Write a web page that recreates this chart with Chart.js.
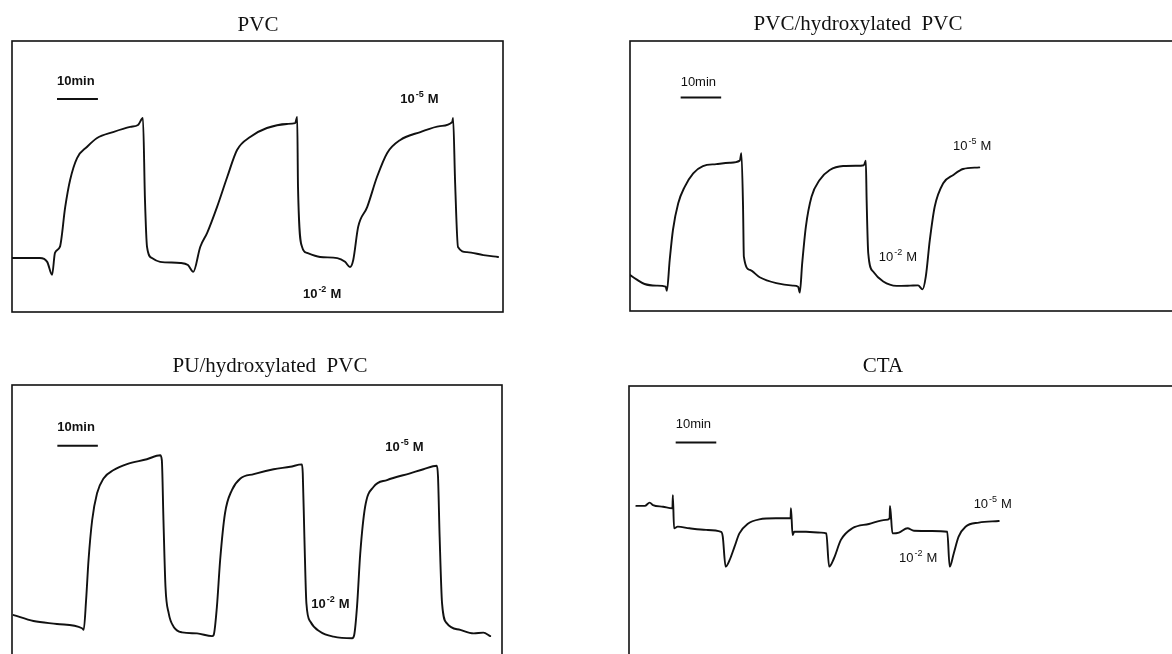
<!DOCTYPE html>
<html>
<head>
<meta charset="utf-8">
<script src="https://cdn.jsdelivr.net/npm/chart.js@4/dist/chart.umd.min.js"></script>
<style>
    html, body { margin: 0; padding: 0; background: #fff; overflow: hidden; width: 1172px; height: 654px; }
    .panel { position: absolute; }
</style>
</head>
<body>
<div class="panel" style="left:0;top:0"><canvas id="pvcChart" width="520" height="327"></canvas></div>
<div class="panel" style="left:586px;top:0"><canvas id="pvcOhChart" width="614" height="327"></canvas></div>
<div class="panel" style="left:0;top:327px"><canvas id="puChart" width="520" height="353"></canvas></div>
<div class="panel" style="left:586px;top:327px"><canvas id="ctaChart" width="614" height="353"></canvas></div>
<script>
// time in minutes, signal in arbitrary potential units (0-100 of the frame)
const pvcTime = [0, 6.8, 8.6, 9.8, 10.5, 11.7, 13.0, 14.2, 15.9, 18.3, 20.8, 24.7, 28.9, 30.8, 32.0, 32.5, 33.0, 34.2, 36.2, 41.1, 43.0, 44.3, 46.0, 47.7, 50.1, 52.6, 55.0, 58.2, 62.3, 67.2, 69.2, 69.7, 69.9, 70.9, 72.1, 75.3, 79.5, 81.4, 82.6, 83.4, 84.6, 86.8, 89.2, 91.7, 94.9, 99.8, 104.6, 107.6, 107.8, 108.3, 109.0, 111.2, 115.2, 118.8];
const pvcSignal = [19.9, 19.9, 18.5, 13.7, 21.8, 24.0, 38.7, 48.7, 56.8, 60.9, 64.2, 66.4, 68.3, 69.0, 71.6, 41.3, 24.0, 19.9, 18.5, 18.1, 17.3, 14.8, 24.0, 29.2, 38.7, 49.8, 59.8, 64.6, 67.9, 69.4, 69.7, 72.0, 46.1, 24.0, 21.8, 20.3, 19.9, 18.5, 16.6, 19.2, 31.4, 38.7, 49.8, 58.7, 63.5, 66.4, 68.6, 70.1, 71.6, 47.6, 24.0, 22.1, 21.0, 20.3];

const pvcOhTime = [0, 1.6, 3.6, 6.5, 8.8, 9.1, 9.8, 10.6, 11.9, 13.5, 15.6, 18.0, 21.3, 24.6, 27.1, 27.5, 27.9, 28.1, 29.6, 32.0, 36.1, 40.2, 41.5, 41.9, 42.5, 43.4, 44.8, 46.8, 49.3, 52.6, 55.9, 57.7, 58.2, 58.4, 58.8, 60.0, 62.5, 65.8, 69.1, 71.1, 72.2, 73.0, 74.0, 75.2, 77.3, 79.8, 82.2, 86.2];
const pvcOhSignal = [13.3, 11.7, 10.0, 9.4, 9.0, 7.5, 18.9, 30.0, 39.9, 46.0, 51.0, 53.7, 54.4, 54.9, 55.7, 58.4, 38.6, 20.1, 15.2, 12.5, 10.3, 9.4, 9.0, 6.8, 17.7, 31.2, 42.3, 48.5, 52.2, 53.7, 53.8, 54.0, 55.7, 41.1, 21.4, 14.6, 10.9, 9.3, 9.4, 9.5, 8.0, 12.7, 26.3, 38.6, 47.3, 50.4, 52.6, 53.2];

const puTime = [0.4, 5.3, 11.1, 17.3, 17.7, 18.3, 18.9, 19.8, 21.0, 22.6, 25.1, 28.4, 33.3, 36.6, 37.0, 37.4, 37.9, 38.7, 39.9, 42.0, 45.7, 49.4, 49.8, 50.6, 51.4, 52.6, 54.3, 56.4, 59.7, 64.6, 68.7, 71.6, 71.8, 72.2, 72.7, 73.7, 76.1, 79.4, 84.0, 84.5, 85.2, 86.0, 87.2, 89.3, 92.6, 98.3, 101.6, 104.9, 105.2, 105.6, 106.2, 107.4, 110.7, 114.0, 116.4, 118.1];
const puSignal = [14.8, 12.6, 11.5, 9.9, 9.3, 20.4, 35.2, 50.0, 59.9, 65.4, 68.5, 70.7, 72.5, 74.0, 72.2, 50.0, 25.3, 15.4, 10.5, 8.4, 8.0, 7.0, 7.4, 17.9, 35.2, 52.5, 61.1, 65.4, 67.0, 68.8, 69.7, 70.6, 67.3, 43.8, 19.1, 12.3, 8.6, 6.8, 6.2, 7.4, 17.9, 37.7, 54.9, 62.3, 64.8, 67.3, 68.8, 70.1, 66.0, 43.8, 19.1, 11.7, 9.3, 8.0, 8.3, 7.0];

const ctaTime = [1.8, 3.9, 5.1, 5.9, 8.4, 10.7, 10.8, 11.1, 12.0, 14.9, 19.0, 22.7, 23.1, 23.8, 24.8, 26.0, 27.2, 29.2, 32.1, 36.2, 39.8, 39.9, 40.3, 40.7, 43.6, 47.3, 48.6, 49.3, 50.5, 52.2, 55.0, 59.1, 63.2, 64.2, 64.3, 64.9, 66.5, 68.6, 70.2, 74.7, 78.4, 79.0, 80.0, 81.2, 82.9, 86.2, 91.1];
const ctaSignal = [55.6, 55.6, 56.8, 55.9, 55.3, 54.7, 59.6, 47.3, 47.9, 47.3, 46.7, 46.0, 44.2, 33.1, 35.6, 40.5, 45.4, 48.9, 50.6, 51.0, 51.0, 54.7, 44.8, 46.0, 46.0, 45.7, 45.4, 33.1, 36.2, 43.0, 47.3, 48.9, 50.4, 51.0, 55.6, 45.4, 45.7, 47.3, 46.4, 46.3, 46.0, 33.1, 38.0, 44.2, 47.9, 49.4, 50.0];

const panelTitles = ['PVC', 'PVC/hydroxylated  PVC', 'PU/hydroxylated  PVC', 'CTA'];
const scaleBarLabel = '10min';
const highConc = '-2';
const lowConc = '-5';

// frame, title text, scale bar and concentration labels
const decorPlugin = {
    id: 'decor',
    afterDraw(chart, args, opts) {
        const { ctx, chartArea: a, scales } = chart;
        const xs = scales.x, ys = scales.y;
        ctx.save();
        ctx.strokeStyle = '#111';
        ctx.lineWidth = 1.6;
        ctx.strokeRect(a.left, a.top, a.right - a.left, a.bottom - a.top);

        ctx.fillStyle = '#111';
        ctx.textAlign = 'center';
        ctx.textBaseline = 'alphabetic';
        ctx.font = '21px "Liberation Serif"';
        ctx.fillText(opts.title, a.left + opts.titleX, a.top + opts.titleY);

        // 10 min scale bar
        const b = opts.bar;
        const bx0 = xs.getPixelForValue(b[0]);
        const bx1 = xs.getPixelForValue(b[0] + 10);
        ctx.lineWidth = 2;
        ctx.beginPath();
        ctx.moveTo(bx0, ys.getPixelForValue(b[1]));
        ctx.lineTo(bx1, ys.getPixelForValue(b[1]));
        ctx.stroke();
        ctx.textAlign = 'left';
        ctx.font = opts.weight + ' 13px "Liberation Sans"';
        ctx.fillText(scaleBarLabel, bx0, ys.getPixelForValue(b[2]));

        const conc = (pos, exp) => {
            const x = xs.getPixelForValue(pos[0]);
            const y = ys.getPixelForValue(pos[1]);
            ctx.font = opts.weight + ' 13px "Liberation Sans"';
            ctx.fillText('10', x, y);
            let w = ctx.measureText('10').width + 1;
            ctx.font = opts.weight + ' 9px "Liberation Sans"';
            ctx.fillText(exp, x + w, y - 6);
            w += ctx.measureText(exp).width + 4;
            ctx.font = opts.weight + ' 13px "Liberation Sans"';
            ctx.fillText('M', x + w, y);
        };
        conc(opts.low, lowConc);
        conc(opts.high, highConc);
        ctx.restore();
    }
};

function makePanel(id, time, signal, xMax, padding, decor) {
    const ctx = document.getElementById(id).getContext('2d');
    return new Chart(ctx, {
        type: 'line',
        data: {
            datasets: [{
                data: time.map((t, i) => ({ x: t, y: signal[i] })),
                borderColor: '#111',
                borderWidth: 1.9,
                borderJoinStyle: 'round',
                borderCapStyle: 'round',
                cubicInterpolationMode: 'monotone',
                pointRadius: 0,
                fill: false
            }]
        },
        options: {
            responsive: false,
            animation: false,
            events: [],
            layout: { padding: padding },
            plugins: {
                legend: { display: false },
                tooltip: { enabled: false },
                decor: decor
            },
            scales: {
                x: { type: 'linear', min: 0, max: xMax, display: false },
                y: { min: 0, max: 100, display: false }
            }
        },
        plugins: [decorPlugin]
    });
}

makePanel('pvcChart', pvcTime, pvcSignal, 120,
    { left: 12, top: 41, right: 17, bottom: 15 },
    { title: panelTitles[0], titleX: 246, titleY: -10, weight: 'bold',
      bar: [11.0, 78.6, 83.8], low: [94.9, 77.1], high: [71.1, 5.2] });

makePanel('pvcOhChart', pvcOhTime, pvcOhSignal, 135,
    { left: 44, top: 41, right: 23, bottom: 16 },
    { title: panelTitles[1], titleX: 228, titleY: -11, weight: 'normal',
      bar: [12.5, 79.1, 83.3], low: [79.7, 59.6], high: [61.4, 18.5] });

makePanel('puChart', puTime, puSignal, 121,
    { left: 12, top: 58, right: 18, bottom: 25 },
    { title: panelTitles[2], titleX: 258, titleY: -13, weight: 'bold',
      bar: [11.2, 77.5, 83.0], low: [92.2, 75.6], high: [73.9, 17.4] });

makePanel('ctaChart', ctaTime, ctaSignal, 135,
    { left: 43, top: 59, right: 23, bottom: 24 },
    { title: panelTitles[3], titleX: 254, titleY: -14, weight: 'normal',
      bar: [11.5, 79.1, 84.4], low: [84.9, 54.8], high: [66.5, 34.8] });
</script>
</body>
</html>
